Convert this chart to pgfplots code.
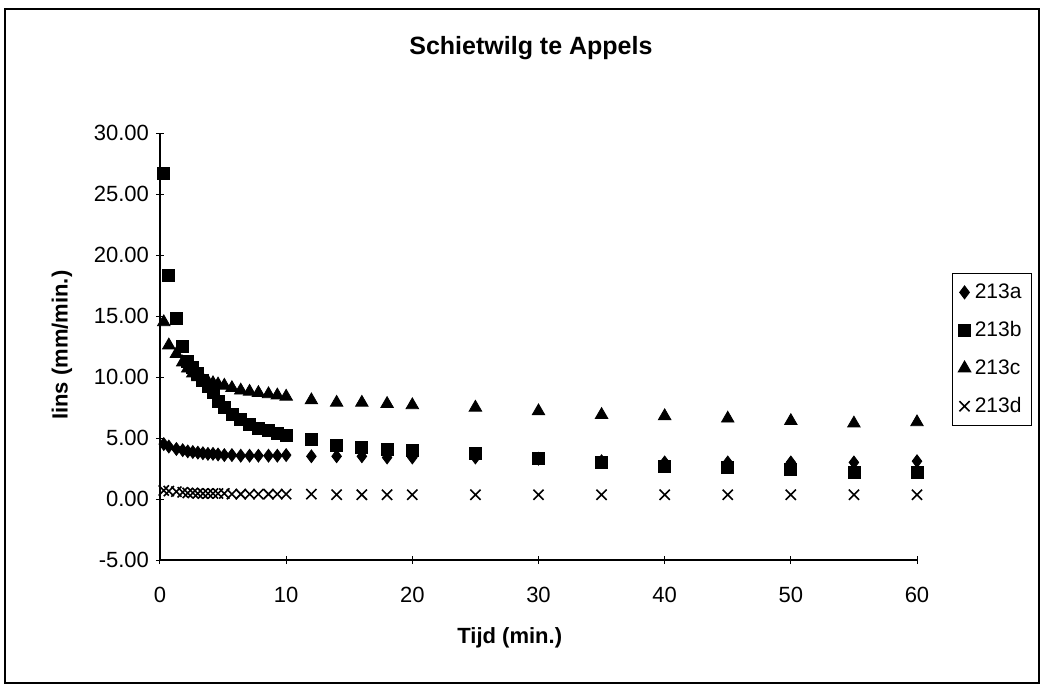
\documentclass[border=0pt]{standalone}
\usepackage{pgfplots}
\usepackage{pgfplotstable}
\pgfplotsset{compat=1.18}
\usepackage{fontspec}
\setmainfont{Liberation Sans}

% time (min.) and the four series 213a..213d
\pgfplotstableread{
t    a     b     c     d
0.3  4.50  26.70 14.50 0.70
0.7  4.30  18.30 12.60 0.65
1.3  4.10  14.80 11.90 0.60
1.8  4.00  12.50 11.20 0.55
2.2  3.90  11.30 10.70 0.50
2.6  3.85  10.80 10.30 0.50
3.0  3.80  10.30 10.00 0.45
3.4  3.75  9.70  9.80  0.45
3.8  3.70  9.20  9.60  0.45
4.2  3.70  8.70  9.50  0.45
4.6  3.65  8.00  9.40  0.45
5.1  3.60  7.50  9.30  0.45
5.7  3.60  6.90  9.10  0.40
6.4  3.55  6.50  8.90  0.40
7.1  3.55  6.10  8.80  0.40
7.8  3.55  5.80  8.70  0.40
8.6  3.55  5.60  8.60  0.40
9.3  3.55  5.40  8.50  0.40
10   3.60  5.20  8.40  0.40
12   3.50  4.90  8.10  0.40
14   3.50  4.40  7.90  0.35
16   3.50  4.20  7.90  0.35
18   3.40  4.10  7.80  0.35
20   3.40  4.00  7.70  0.35
25   3.40  3.70  7.50  0.35
30   3.30  3.30  7.20  0.35
35   3.10  3.00  6.90  0.35
40   3.00  2.70  6.80  0.35
45   3.00  2.60  6.60  0.35
50   3.00  2.40  6.40  0.35
55   3.00  2.20  6.20  0.35
60   3.10  2.20  6.30  0.35
}\data

\begin{document}
\begin{tikzpicture}
\begin{axis}[
    name=ax,
    scale only axis,
    width=378.5pt, height=213.5pt,
    xmin=0, xmax=60, ymin=-5, ymax=30,
    xtick={0,10,...,60}, ytick={-5,0,...,30},
    axis x line=bottom, axis y line=left,
    axis line style={-, black, line width=0.6pt},
    tick align=center, major tick length=4pt,
    tick style={black, line width=0.5pt},
    ticklabel style={font=\fontsize{11}{13}\selectfont},
    /pgf/number format/assume math mode=true,
    yticklabel style={/pgf/number format/.cd, fixed, fixed zerofill, precision=2},
    xticklabel style={yshift=-8pt},
    title={\bfseries Schietwilg te Appels},
    title style={at={(0.49,1)}, anchor=center, yshift=36.5pt, font=\fontsize{12.5}{15}\selectfont},
    xlabel={\bfseries Tijd (min.)},
    xlabel style={at={(0.462,0)}, anchor=center, yshift=-39pt, font=\fontsize{11}{13}\selectfont},
    ylabel={\bfseries Iins (mm/min.)},
    ylabel style={at={(-0.1295,0.503)}, anchor=center, font=\fontsize{11}{13}\selectfont},
    legend style={at={(1.046,0.672)}, anchor=north west, draw=black, line width=0.5pt,
        font=\fontsize{10.5}{12}\selectfont, row sep=6pt, inner sep=3pt,
        cells={anchor=west}},
    legend cell align=left,
]
\addplot[only marks, mark=diamond*, mark size=3.2pt, black] table[x=t, y=a] {\data};
\addlegendentry{213a}
\addplot[only marks, mark=square*, mark size=3pt, black] table[x=t, y=b] {\data};
\addlegendentry{213b}
\addplot[only marks, mark=triangle*, mark size=3.6pt, black] table[x=t, y=c] {\data};
\addlegendentry{213c}
\addplot[only marks, mark=x, mark size=3.6pt, black, mark options={line width=0.8pt}] table[x=t, y=d] {\data};
\addlegendentry{213d}
\end{axis}
\begin{scope}[shift={(ax.south west)}]
\draw[black, line width=0.6pt] (-77.5pt,-61.5pt) rectangle (439.5pt,275.5pt);
\useasboundingbox (-80pt,-63pt) rectangle (442pt,280pt);
\end{scope}
\end{tikzpicture}
\end{document}
